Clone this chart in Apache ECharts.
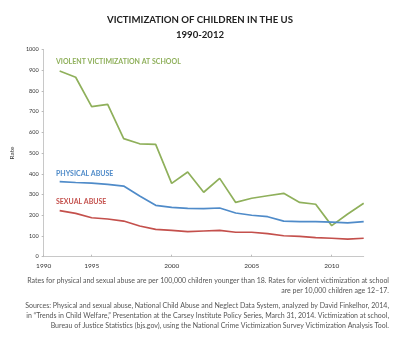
<!DOCTYPE html>
<html>
<head>
<meta charset="utf-8">
<script src="https://cdn.jsdelivr.net/npm/echarts@6/dist/echarts.min.js"></script>
<style>
  html, body { margin: 0; padding: 0; background: #fff; }
  #chart { width: 400px; height: 344px; }
</style>
</head>
<body>
<div id="chart"></div>
<script>
// Annual rates, 1993-2012
const years = [1993, 1994, 1995, 1996, 1997, 1998, 1999, 2000, 2001, 2002,
               2003, 2004, 2005, 2006, 2007, 2008, 2009, 2010, 2011, 2012];
// per 10,000 children age 12-17
const schoolViolence = [896, 866, 724, 735, 570, 545, 542, 354, 409, 311,
                        378, 262, 282, 294, 306, 262, 253, 150, 206, 258];
// per 100,000 children younger than 18
const physicalAbuse = [362, 358, 355, 349, 341, 293, 248, 238, 233, 232,
                       235, 211, 200, 193, 172, 169, 169, 167, 163, 169];
const sexualAbuse = [222, 209, 188, 182, 172, 148, 132, 127, 121, 124,
                     127, 118, 118, 111, 101, 98, 92, 89, 85, 89];

// x-axis tick positions and their printed labels (the first tick sits at the axis start)
const xTickValues = [1992, 1995, 2000, 2005, 2010];
const xTickLabels = ['1990', '1995', '2000', '2005', '2010'];

// footnote lines, right-aligned under the plot
const noteLines = [
  'Rates for physical and sexual abuse are per 100,000 children younger than 18. Rates for violent victimization at school',
  'are per 10,000 children age 12–17.'
];
const sourceLines = [
  'Sources: Physical and sexual abuse, National Child Abuse and Neglect Data System, analyzed by David Finkelhor, 2014,',
  'in “Trends in Child Welfare,” Presentation at the Carsey Institute Policy Series, March 31, 2014. Victimization at school,',
  'Bureau of Justice Statistics (bjs.gov), using the National Crime Victimization Survey Victimization Analysis Tool.'
];

const GREEN = '#8fb05b';
const BLUE = '#4f8bc9';
const RED = '#c4504c';
const FONT = 'Lato, "Open Sans", sans-serif';

const pair = (vals) => years.map((y, i) => [y, vals[i]]);

const footnoteText = (line, top) => ({
  type: 'text', right: 11, top: top,
  style: { text: line, fill: '#555', font: '7px ' + FONT }
});

const chart = echarts.init(document.getElementById('chart'), null, { renderer: 'canvas' });
chart.setOption({
  animation: false,
  backgroundColor: '#fff',
  textStyle: { fontFamily: FONT },
  title: [
    {
      text: 'VICTIMIZATION OF CHILDREN IN THE US',
      left: 'center', top: 10,
      textStyle: { fontSize: 9.6, fontWeight: 'bold', color: '#222', fontFamily: FONT }
    },
    {
      text: '1990-2012',
      left: 'center', top: 25,
      textStyle: { fontSize: 9.6, fontWeight: 'bold', color: '#222', fontFamily: FONT }
    }
  ],
  grid: { left: 39.5, right: 36.3, top: 49.5, bottom: 87.3 },
  xAxis: {
    type: 'value',
    min: 1992, max: 2012,
    axisLine: { show: true, lineStyle: { color: '#c8c8c8', width: 1 } },
    axisTick: { show: true, inside: true, length: 2, customValues: xTickValues,
                lineStyle: { color: '#bbb' } },
    axisLabel: {
      customValues: xTickValues,
      formatter: (v) => xTickLabels[xTickValues.indexOf(v)] || '',
      fontSize: 6.5, color: '#333', margin: 6, fontFamily: FONT
    },
    splitLine: { show: false }
  },
  yAxis: {
    type: 'value',
    min: 0, max: 1000, interval: 100,
    name: 'Rate',
    nameLocation: 'middle',
    nameGap: 25,
    nameRotate: 90,
    nameTextStyle: { fontSize: 6.5, color: '#333', fontFamily: FONT },
    axisLine: { show: true, lineStyle: { color: '#c8c8c8', width: 1 } },
    axisTick: { show: true, length: 2, lineStyle: { color: '#bbb' } },
    axisLabel: { fontSize: 5.5, color: '#333', margin: 5, fontFamily: FONT,
                 formatter: (v) => String(v) },
    splitLine: { show: false }
  },
  series: [
    { type: 'line', data: pair(schoolViolence), showSymbol: false,
      lineStyle: { color: GREEN, width: 1.7 }, itemStyle: { color: GREEN } },
    { type: 'line', data: pair(physicalAbuse), showSymbol: false,
      lineStyle: { color: BLUE, width: 1.7 }, itemStyle: { color: BLUE } },
    { type: 'line', data: pair(sexualAbuse), showSymbol: false,
      lineStyle: { color: RED, width: 1.7 }, itemStyle: { color: RED } }
  ],
  graphic: [
    { type: 'text', left: 56, top: 58,
      style: { text: 'VIOLENT VICTIMIZATION AT SCHOOL', fill: GREEN,
               font: 'bold 7px ' + FONT } },
    { type: 'text', left: 56, top: 170,
      style: { text: 'PHYSICAL ABUSE', fill: BLUE, font: 'bold 7px ' + FONT } },
    { type: 'text', left: 56, top: 198,
      style: { text: 'SEXUAL ABUSE', fill: RED, font: 'bold 7px ' + FONT } },
    footnoteText(noteLines[0], 277),
    footnoteText(noteLines[1], 287),
    footnoteText(sourceLines[0], 302),
    footnoteText(sourceLines[1], 312),
    footnoteText(sourceLines[2], 322)
  ]
});
</script>
</body>
</html>
